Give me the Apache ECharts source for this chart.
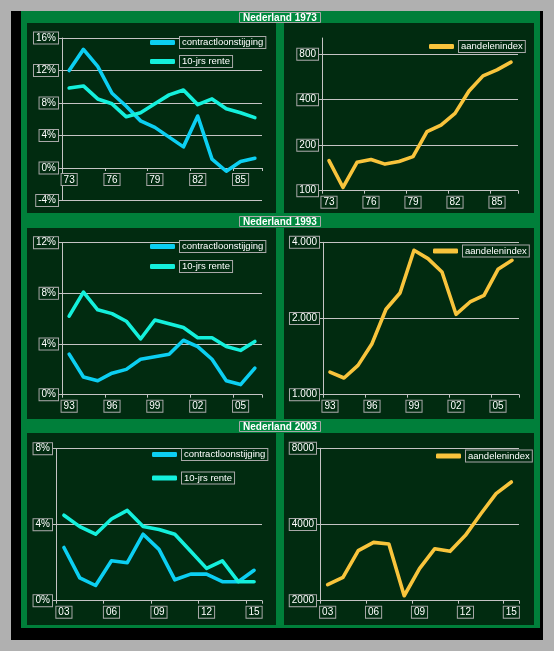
<!DOCTYPE html>
<html><head><meta charset="utf-8">
<script src="https://cdn.jsdelivr.net/npm/echarts@6/dist/echarts.min.js"></script>
<style>
html,body{margin:0;padding:0;background:#b0b0b0;}
#wrap{position:relative;width:554px;height:651px;overflow:hidden;}
.r{position:absolute;}
#chart{position:absolute;left:0;top:0;width:554px;height:651px;}
</style></head><body>
<div id="wrap">
<div class="r" style="left:11px;top:11px;width:532px;height:629px;background:#000"></div>
<div class="r" style="left:21px;top:11px;width:519px;height:617px;background:#007f3a"></div>
<div class="r" style="left:27px;top:23px;width:249px;height:190px;background:#012b10"></div>
<div class="r" style="left:284px;top:23px;width:250px;height:190px;background:#012b10"></div>
<div class="r" style="left:27px;top:228px;width:249px;height:191px;background:#012b10"></div>
<div class="r" style="left:284px;top:228px;width:250px;height:191px;background:#012b10"></div>
<div class="r" style="left:27px;top:433px;width:249px;height:192px;background:#012b10"></div>
<div class="r" style="left:284px;top:433px;width:250px;height:192px;background:#012b10"></div>
<div id="chart"></div>
</div>
<script>
// ---- data ----
const years73 = ['73','74','75','76','77','78','79','80','81','82','83','84','85','86'];
const contract73 = [12.0,14.6,12.5,9.2,7.6,5.8,5.0,3.8,2.6,6.4,1.1,-0.4,0.8,1.2];
const rente73 = [9.85,10.1,8.5,7.9,6.3,6.8,7.9,9.0,9.6,7.8,8.5,7.3,6.8,6.2];
const aex73 = [158,105,154,161,150,156,168,246,272,325,457,575,630,709];

const years93 = ['93','94','95','96','97','98','99','00','01','02','03','04','05','06'];
const contract93 = [3.2,1.4,1.1,1.7,2.0,2.8,3.0,3.2,4.3,3.8,2.8,1.1,0.8,2.1];
const rente93 = [6.2,8.1,6.7,6.4,5.8,4.4,5.9,5.6,5.3,4.5,4.5,3.8,3.5,4.2];
const aex93 = [1229,1164,1306,1591,2175,2523,3720,3448,3053,2078,2324,2470,3129,3396];

const years03 = ['03','04','05','06','07','08','09','10','11','12','13','14','15'];
const contract03 = [2.8,1.2,0.8,2.1,2.0,3.5,2.7,1.1,1.4,1.4,1.0,1.0,1.6];
const rente03 = [4.5,3.9,3.5,4.3,4.75,3.9,3.75,3.5,2.6,1.7,2.1,1.0,1.0];
const aex03 = [2314,2473,3152,3400,3350,2092,2676,3210,3134,3624,4401,5296,5889];

const logTicks73 = [100,200,400,800];
const logTicks93 = [1000,2000,4000];
const logTicks03 = [2000,4000,8000];

const titles = ['Nederland 1973','Nederland 1993','Nederland 2003'];
const nameContract = 'contractloonstijging';
const nameRente = '10-jrs rente';
const nameIndex = 'aandelenindex';

// ---- styles ----
const FONT = 'Liberation Sans';
const GRAY = '#c4c4c4';
const C_CONTRACT = '#0ccff2';
const C_RENTE = '#14f0dc';
const C_INDEX = '#f8c43c';
const boxText = {color:'#fff', fontSize:10, fontFamily:FONT, backgroundColor:'#012b10',
  borderColor:'#a8a8a8', borderWidth:1, padding:[1,2,0,2]};

const grids = [
  {left:62, top:38, width:200, height:162.5},
  {left:322, top:38, width:196, height:152.7},
  {left:62, top:242.7, width:200, height:152},
  {left:323, top:242.3, width:196, height:152.4},
  {left:56, top:448.7, width:206, height:152},
  {left:320, top:448.3, width:199, height:152.4}
];

function xAx(gi, data, offset){
  return {type:'category', gridIndex:gi, data:data, boundaryGap:true, offset:offset || 0,
    axisLine:{show:true, onZero:false, lineStyle:{color:GRAY, width:1}},
    axisTick:{show:true, interval:2, length:3, lineStyle:{color:GRAY}},
    axisLabel:Object.assign({interval:2, margin:6}, boxText),
    splitLine:{show:false}};
}
function yPct(gi, min, max){
  return {type:'value', gridIndex:gi, min:min, max:max, interval:4,
    axisLine:{show:true, lineStyle:{color:GRAY}},
    axisTick:{show:true, length:4, lineStyle:{color:GRAY}},
    axisLabel:Object.assign({formatter:'{value}%', margin:4}, boxText),
    splitLine:{show:true, lineStyle:{color:GRAY, width:1}}};
}
function yLog(gi, min, max, ticks, fmt){
  return {type:'log', logBase:2, gridIndex:gi, min:min, max:max,
    axisLine:{show:true, lineStyle:{color:GRAY}},
    axisTick:{show:true, length:4, lineStyle:{color:GRAY}, customValues:ticks},
    axisLabel:Object.assign({margin:4, customValues:ticks, formatter:fmt}, boxText),
    splitLine:{show:true, lineStyle:{color:GRAY, width:1}},
    minorTick:{show:false}, minorSplitLine:{show:false}};
}
const dotFmt = v => String(Math.round(v)).replace(/\B(?=(\d{3})+(?!\d))/g,'.');
const plainFmt = v => String(Math.round(v));

function line(name, gi, data, color){
  return {type:'line', name:name, xAxisIndex:gi, yAxisIndex:gi, data:data,
    symbol:'none', smooth:false, color:color,
    lineStyle:{color:color, width:3.6, cap:'round', join:'round'}, z:3};
}
function legend(left, top, names, gap){
  return {left:left, top:top, orient:'vertical', padding:0, itemGap:gap || 5, icon:'roundRect',
    itemWidth:25, itemHeight:5, data:names, selectedMode:false,
    textStyle:Object.assign({}, boxText, {fontSize:9.5, padding:[1,2,0,2]})};
}
function title(text, top){
  return {text:text, left:239, top:top, padding:[1,4,0,4],
    backgroundColor:'#008a40', borderColor:'#a8a8a8', borderWidth:1,
    textStyle:{color:'#fff', fontSize:10, fontWeight:'bold', fontFamily:FONT}};
}

const chart = echarts.init(document.getElementById('chart'), null, {renderer:'canvas'});
chart.setOption({
  animation:false,
  backgroundColor:'transparent',
  title:[title(titles[0],12), title(titles[1],216), title(titles[2],421)],
  grid:grids.map(g => Object.assign({containLabel:false}, g)),
  xAxis:[xAx(0,years73,-32.5), xAx(1,years73), xAx(2,years93), xAx(3,years93), xAx(4,years03), xAx(5,years03)],
  yAxis:[
    yPct(0,-4,16),
    yLog(1,100,1024,logTicks73,plainFmt),
    yPct(2,0,12),
    yLog(3,1000,4000,logTicks93,dotFmt),
    yPct(4,0,8),
    yLog(5,2000,8000,logTicks03,plainFmt)
  ],
  legend:[
    legend(150,36,[nameContract,nameRente],6),
    legend(429,40,[nameIndex]),
    legend(150,240,[nameContract,nameRente],7),
    legend(433,244.5,[nameIndex]),
    legend(152,448,[nameContract,nameRente],10.5),
    legend(436,449.5,[nameIndex])
  ],
  series:[
    line(nameContract,0,contract73,C_CONTRACT),
    line(nameRente,0,rente73,C_RENTE),
    line(nameIndex,1,aex73,C_INDEX),
    line(nameContract,2,contract93,C_CONTRACT),
    line(nameRente,2,rente93,C_RENTE),
    line(nameIndex,3,aex93,C_INDEX),
    line(nameContract,4,contract03,C_CONTRACT),
    line(nameRente,4,rente03,C_RENTE),
    line(nameIndex,5,aex03,C_INDEX)
  ]
});
</script>
</body></html>
